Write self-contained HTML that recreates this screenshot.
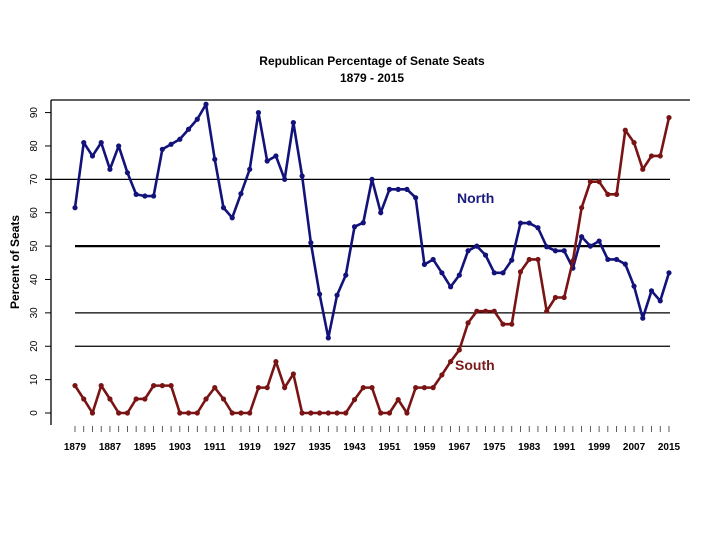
<!DOCTYPE html>
<html><head><meta charset="utf-8"><style>
body{margin:0;background:#fff}
svg{display:block;font-family:"Liberation Sans",Arial,sans-serif}
</style></head><body>
<svg id="chart" width="720" height="540" viewBox="0 0 720 540">
<text x="372" y="65" text-anchor="middle" font-size="12" font-weight="bold">Republican Percentage of Senate Seats</text>
<text x="372" y="82" text-anchor="middle" font-size="12" font-weight="bold">1879 - 2015</text>
<text transform="translate(19,262) rotate(-90)" text-anchor="middle" font-size="12" font-weight="bold">Percent of Seats</text>
<line x1="51" y1="100" x2="690" y2="100" stroke="#000" stroke-width="1.3"/>
<line x1="51" y1="100" x2="51" y2="425" stroke="#000" stroke-width="1.3"/>
<g id="grid"></g><g id="yticks"></g><g id="xticks"></g><g id="series"></g>
<text x="457" y="203" font-size="14" font-weight="bold" fill="#1a1a80">North</text>
<text x="455" y="370" font-size="14" font-weight="bold" fill="#7a1a1a">South</text>
</svg>
<script>
const startYear = 1879;
const yTicks = [0,10,20,30,40,50,60,70,80,90];
const xLabels = [1879,1887,1895,1903,1911,1919,1927,1935,1943,1951,1959,1967,1975,1983,1991,1999,2007,2015];
const gridValues = [70,50,30,20];
const north = [61.5,81,77,81,73,80,72,65.5,65,65,79,80.5,82,85,88,92.5,76,61.5,58.5,65.7,73,90,75.5,77,70,87,71,51,35.6,22.5,35.3,41.3,55.8,57,70,60,67,67,67,64.5,44.5,46,42,37.8,41.3,48.6,50,47.3,42,42,45.8,56.9,56.9,55.5,49.8,48.6,48.6,43.4,52.8,50,51.5,46,46,44.6,38,28.4,36.6,33.6,42];
const south = [8.2,4.2,0,8.2,4.2,0,0,4.2,4.2,8.2,8.2,8.2,0,0,0,4.2,7.6,4.2,0,0,0,7.6,7.6,15.4,7.6,11.7,0,0,0,0,0,0,4,7.6,7.6,0,0,4,0,7.6,7.6,7.6,11.4,15.4,18.9,27,30.5,30.5,30.5,26.6,26.6,42.3,46,46,30.5,34.6,34.6,45.6,61.5,69.3,69.3,65.5,65.5,84.7,81,73,77,77,88.5];
const NS='http://www.w3.org/2000/svg';
const x = yr => 75 + (yr - startYear) / 2 * 8.735;
const y = v => 413 - v * 3.338;
function mk(tag, parent){const e=document.createElementNS(NS,tag);document.getElementById(parent).appendChild(e);return e;}
gridValues.forEach(v=>{
  const l=mk('line','grid');
  
  
  l.setAttribute('x1', v===70?45:75);l.setAttribute('x2', v===50?660:670);
  l.setAttribute('y1',y(v));l.setAttribute('y2',y(v));
  l.setAttribute('stroke','#000');l.setAttribute('stroke-width', v===50?2.2:1.2);
});
yTicks.forEach(v=>{
  const l=mk('line','yticks');
  
  
  l.setAttribute('x1',45);l.setAttribute('x2',51);l.setAttribute('y1',y(v));l.setAttribute('y2',y(v));
  l.setAttribute('stroke','#000');
  const t=mk('text','yticks');
  
  
  t.setAttribute('transform','translate(37,'+y(v)+') rotate(-90)');
  t.setAttribute('text-anchor','middle');t.setAttribute('font-size','10');
  t.textContent=v;
});
north.forEach((v,i)=>{
  const yr=startYear+2*i;
  const l=mk('line','xticks');
  
  
  l.setAttribute('x1',x(yr));l.setAttribute('x2',x(yr));l.setAttribute('y1',426);l.setAttribute('y2',432);
  l.setAttribute('stroke','#333');l.setAttribute('stroke-width','0.8');
});
xLabels.forEach(yr=>{
  const t=mk('text','xticks');
  
  
  t.setAttribute('x',x(yr));t.setAttribute('y',450);t.setAttribute('text-anchor','middle');
  t.setAttribute('font-size','10');t.setAttribute('font-weight','bold');
  t.textContent=yr;
});
function drawSeries(data,color,name){
  const p=mk('polyline','series');
  
  
  p.setAttribute('points',data.map((v,i)=>x(startYear+2*i)+','+y(v)).join(' '));
  p.setAttribute('fill','none');p.setAttribute('stroke',color);p.setAttribute('stroke-width','2.6');p.setAttribute('stroke-linejoin','round');
  data.forEach((v,i)=>{
    const c=mk('circle','series');
    
    
    c.setAttribute('cx',x(startYear+2*i));c.setAttribute('cy',y(v));c.setAttribute('r','2.6');c.setAttribute('fill',color);
  });
}
drawSeries(north,'#12127a','north');
drawSeries(south,'#7a1414','south');
</script>
</body></html>
